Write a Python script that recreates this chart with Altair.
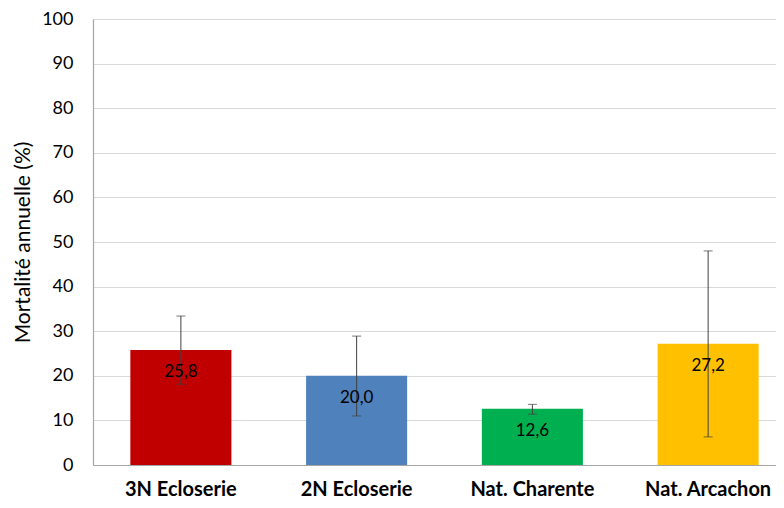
import altair as alt
import pandas as pd

categories = ["3N Ecloserie", "2N Ecloserie", "Nat. Charente", "Nat. Arcachon"]
values = [25.8, 20.0, 12.6, 27.2]
err_low = [18.1, 11.0, 11.4, 6.3]
err_high = [33.4, 28.9, 13.6, 48.0]
labels = ["25,8", "20,0", "12,6", "27,2"]
colors = ["#C00000", "#4F81BD", "#00B050", "#FFC000"]

df = pd.DataFrame({
    "cat": categories,
    "val": values,
    "lo": err_low,
    "hi": err_high,
    "lab": labels,
    "col": colors,
})

FONT = "Lato"

x = alt.X("cat:N", sort=categories, title=None,
          scale=alt.Scale(range=[0, 703], paddingInner=0.425, paddingOuter=0.2125),
          axis=alt.Axis(labelAngle=0, labelFontWeight="bold", labelFontSize=20,
                        labelColor="#000000", labelFont=FONT, ticks=False,
                        labelPadding=14, domainColor="#A6A6A6", domainWidth=1.2))
y = alt.Y("val:Q", title="Mortalité annuelle (%)",
          scale=alt.Scale(domain=[0, 100], nice=False),
          axis=alt.Axis(values=list(range(0, 101, 10)), ticks=False, labelFontSize=18,
                        labelFont=FONT, labelColor="#000000", labelPadding=20,
                        titleFont=FONT, titleFontSize=21, titleFontWeight="normal",
                        titleColor="#000000", titlePadding=8,
                        domainColor="#A6A6A6", domainWidth=1.2,
                        gridColor="#D9D9D9", gridWidth=1.2))

base = alt.Chart(df)

bars = base.mark_bar().encode(
    x=x, y=y,
    color=alt.Color("col:N", scale=None),
)

rules = base.mark_rule(color="#404040", strokeWidth=1).encode(
    x=alt.X("cat:N", sort=categories),
    y="lo:Q", y2="hi:Q",
)
cap_lo = base.mark_tick(color="#404040", thickness=1, size=9, orient="horizontal").encode(
    x=alt.X("cat:N", sort=categories), y="lo:Q")
cap_hi = base.mark_tick(color="#404040", thickness=1, size=9, orient="horizontal").encode(
    x=alt.X("cat:N", sort=categories), y="hi:Q")

text = base.mark_text(baseline="middle", dy=22, fontSize=17, font=FONT, color="#000000").encode(
    x=alt.X("cat:N", sort=categories), y="val:Q", text="lab:N")

chart = alt.layer(bars, rules, cap_lo, cap_hi, text).properties(
    width=683, height=446,
    autosize=alt.AutoSizeParams(type="none"),
    padding={"left": 85, "top": 11, "right": 0, "bottom": 33},
).configure_view(stroke=None).configure(background="white")

chart.save("out.html", embed_options={"renderer": "svg", "actions": False})
